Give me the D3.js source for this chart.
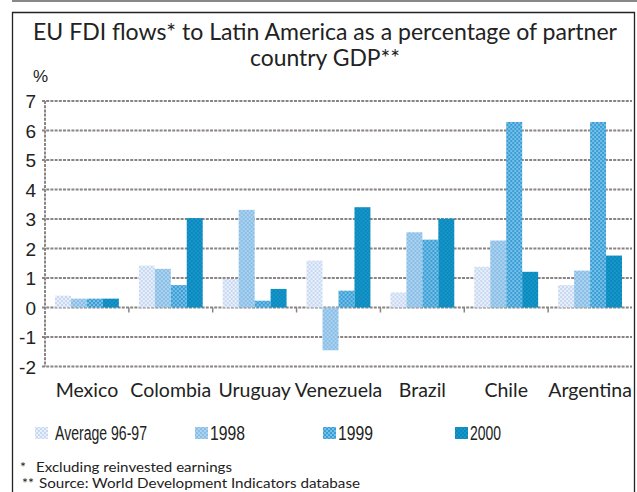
<!DOCTYPE html>
<html><head><meta charset="utf-8">
<script src="https://cdn.jsdelivr.net/npm/d3@7"></script>
<style>
html,body{margin:0;padding:0;background:#fff;}
svg{display:block;}
</style></head>
<body>
<svg id="chart" width="637" height="492"></svg>
<script>
const categories = ["Mexico","Colombia","Uruguay","Venezuela","Brazil","Chile","Argentina"];
const seriesNames = ["Average 96-97","1998","1999","2000"];
const avg9697 = [0.4, 1.42, 0.97, 1.59, 0.51, 1.38, 0.76];
const y1998   = [0.3, 1.31, 3.31, -1.45, 2.55, 2.27, 1.25];
const y1999   = [0.3, 0.76, 0.23, 0.57, 2.30, 6.29, 6.29];
const y2000   = [0.3, 3.03, 0.63, 3.40, 3.01, 1.21, 1.76];
const yTicks  = [-2,-1,0,1,2,3,4,5,6,7];
const titleLines = ["EU FDI flows* to Latin America as a percentage of partner","country GDP**"];
const footnotes = ["Excluding reinvested earnings","Source: World Development Indicators database"];

const seriesValues = [avg9697, y1998, y1999, y2000];
const svg = d3.select("#chart");
const futura = "'Lato','Noto Sans',sans-serif";
const narrow = "'Liberation Sans',Arial,sans-serif";

// patterns
const defs = svg.append("defs");
const pats = [
  {id:"p0", base:"#e4f2fb", dot:"#ccd6f0"},
  {id:"p1", base:"#a9d3ef", dot:"#8cbde6"},
  {id:"p2", base:"#3a9ed6", dot:"#76bfe6"},
  {id:"p3", base:"#0a89bf", dot:"#1896c8"}
];
pats.forEach(p=>{
  const pt = defs.append("pattern").attr("id",p.id).attr("patternUnits","userSpaceOnUse")
    .attr("width",4).attr("height",4);
  pt.append("rect").attr("width",4).attr("height",4).attr("fill",p.base);
  pt.append("rect").attr("x",0).attr("y",0).attr("width",2).attr("height",2).attr("fill",p.dot);
  pt.append("rect").attr("x",2).attr("y",2).attr("width",2).attr("height",2).attr("fill",p.dot);
});

// frame
svg.append("line").attr("x1",12).attr("x2",637).attr("y1",1).attr("y2",1)
  .attr("stroke","#888").attr("stroke-width",2);
svg.append("path").attr("d","M12.5,492 V12.5 H634.5 V492")
  .attr("fill","none").attr("stroke","#222").attr("stroke-width",1.3);

// title
const title = svg.append("text").attr("text-anchor","middle").attr("fill","#222")
  .style("font-family",futura).style("font-size","23px");
title.append("tspan").attr("x",325).attr("y",40).text(titleLines[0])
  .attr("textLength",584).attr("lengthAdjust","spacingAndGlyphs");
title.append("tspan").attr("x",325).attr("y",66).text(titleLines[1])
  .attr("textLength",150).attr("lengthAdjust","spacingAndGlyphs");

svg.append("text").attr("x",33).attr("y",82).text("%").attr("fill","#222")
  .style("font-family",narrow).style("font-size","17px");

// scales
const x0 = d3.scaleBand().domain(categories).range([45,632]).padding(0);
const x1 = d3.scaleBand().domain(seriesNames).range([10, x0.bandwidth()-10]).padding(0);
const y = d3.scaleLinear().domain([-2,7]).range([366.5,101]);

// gridlines
const gridStyle = g => g.attr("stroke","#8a8484").attr("stroke-width",2).attr("stroke-dasharray","3,1.2");
svg.append("g").selectAll("line").data(yTicks).join("line")
  .attr("x1",42).attr("x2",632).attr("y1",d=>y(d)).attr("y2",d=>y(d)).call(gridStyle);
svg.append("line").attr("x1",45).attr("x2",45).attr("y1",y(7)).attr("y2",y(-2)).call(gridStyle);

// y axis labels
const yAxis = d3.axisLeft(y).tickValues(yTicks).tickSize(0).tickPadding(0).tickFormat(d => String(d));
const ya = svg.append("g").attr("transform","translate(36,0)").call(yAxis);
ya.select(".domain").remove();
ya.selectAll("text").attr("fill","#222").style("font-family",narrow).style("font-size","19px").attr("dy","0.35em");

// bars
const groups = svg.append("g").selectAll("g").data(categories).join("g")
  .attr("transform",c=>`translate(${x0(c)},0)`);
groups.selectAll("rect").data((c,i)=>seriesNames.map((s,j)=>({s,j,v:seriesValues[j][i]})))
  .join("rect")
  .attr("x",d=>x1(d.s)).attr("width",x1.bandwidth())
  .attr("y",d=>y(Math.max(0,d.v))).attr("height",d=>Math.abs(y(d.v)-y(0)))
  .attr("fill",d=>`url(#p${d.j})`);

// category ticks on zero line
svg.append("g").selectAll("line").data(categories.slice(1)).join("line")
  .attr("x1",c=>x0(c)).attr("x2",c=>x0(c)).attr("y1",y(0)).attr("y2",y(0)+5)
  .attr("stroke","#8a8484").attr("stroke-width",1.5);

// x labels
const xAxis = d3.axisBottom(x0).tickSize(0).tickPadding(0);
const xa = svg.append("g").attr("transform","translate(0,397)").call(xAxis);
xa.select(".domain").remove();
xa.selectAll("text").attr("fill","#222").attr("dy","0").style("font-family",futura).style("font-size","19.5px");

// legend
const legendX = [35,195,323,455];
const legendTextX = [55,210,338,470];
const legendW = [92,35,35,31];
const leg = svg.append("g");
seriesNames.forEach((s,j)=>{
  leg.append("rect").attr("x",legendX[j]).attr("y",427).attr("width",13).attr("height",12).attr("fill",`url(#p${j})`);
  leg.append("text").attr("x",legendTextX[j]).attr("y",440).text(s).attr("fill","#222")
    .attr("textLength",legendW[j]).attr("lengthAdjust","spacingAndGlyphs")
    .style("font-family",narrow).style("font-size","20px");
});

// footnotes
const fn = svg.append("g").attr("fill","#222").style("font-family",futura).style("font-size","14px");
fn.append("text").attr("x",20).attr("y",472).text("*");
fn.append("text").attr("x",36).attr("y",472).text(footnotes[0]).attr("textLength",196).attr("lengthAdjust","spacingAndGlyphs");
fn.append("text").attr("x",22).attr("y",488).text("**");
fn.append("text").attr("x",39).attr("y",488).text(footnotes[1]).attr("textLength",321).attr("lengthAdjust","spacingAndGlyphs");
</script>
</body></html>
